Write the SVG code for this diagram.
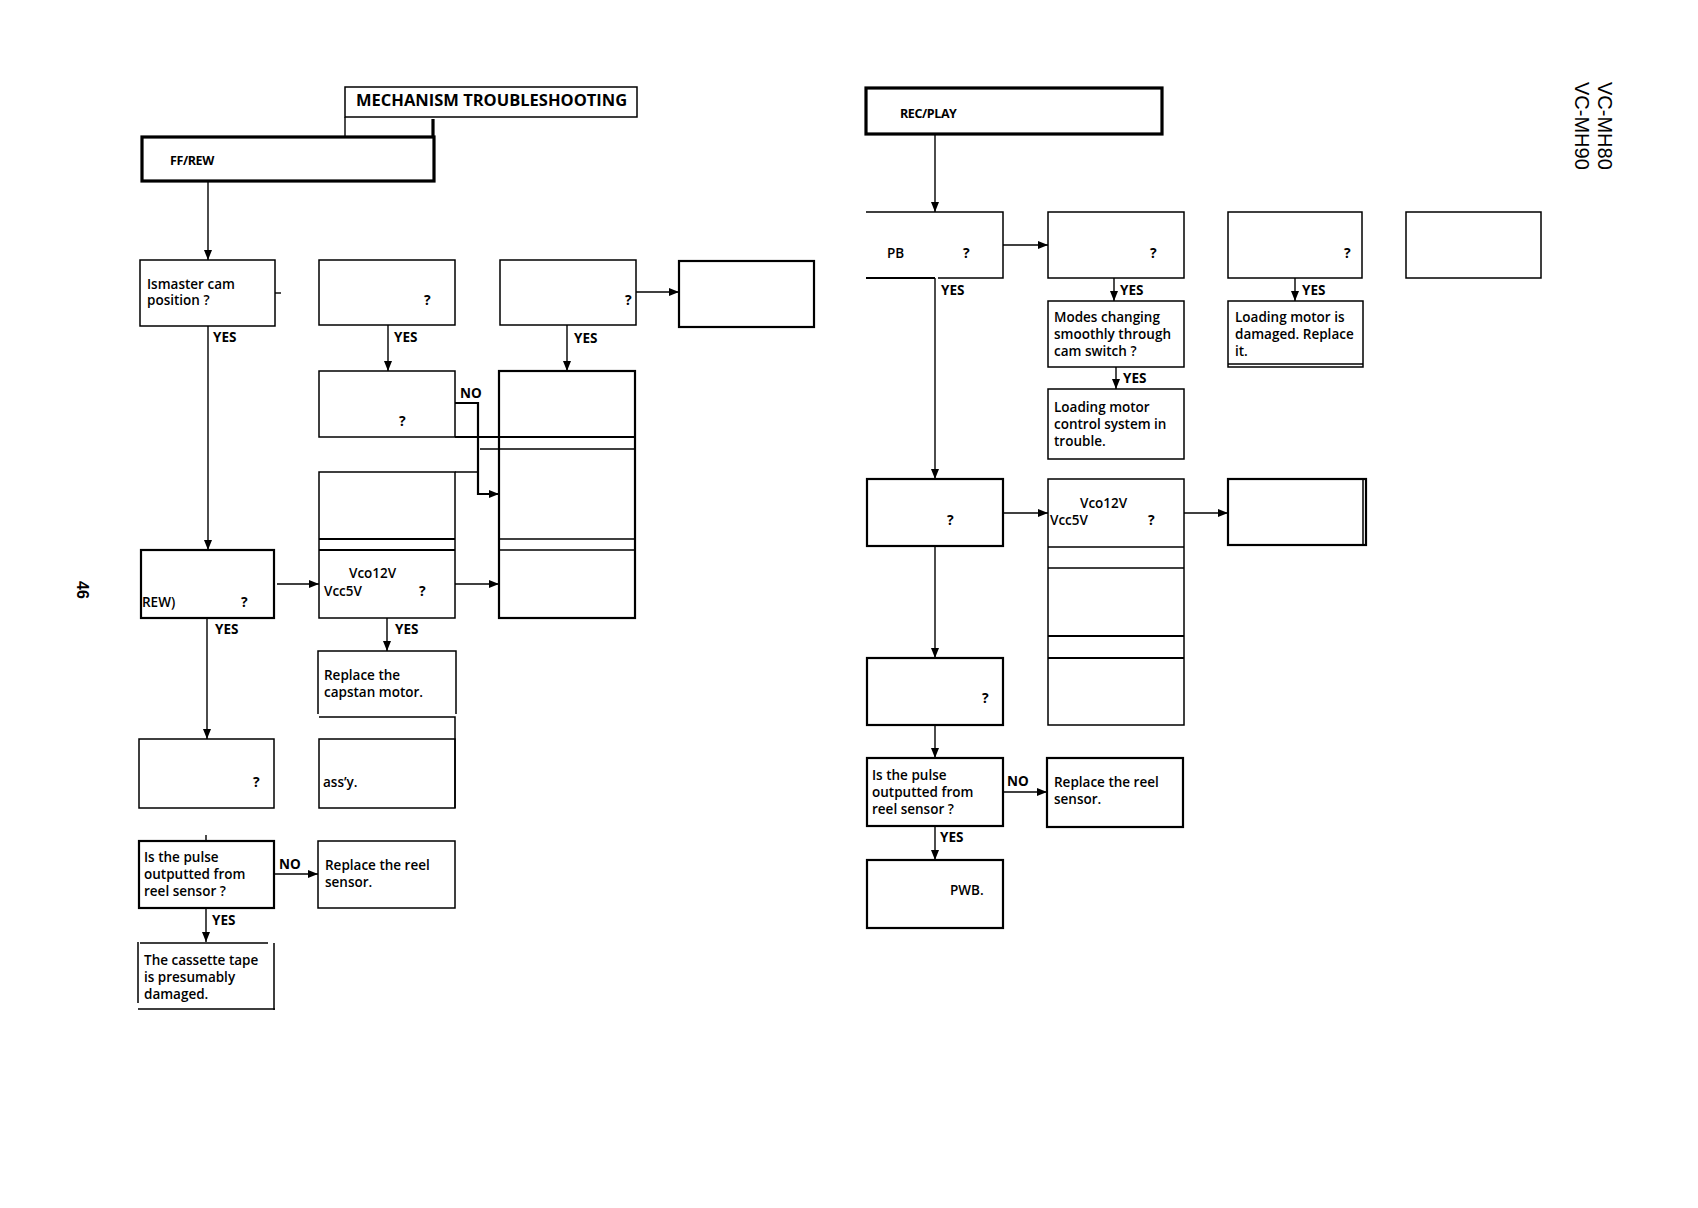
<svg xmlns="http://www.w3.org/2000/svg" width="1698" height="1208" viewBox="0 0 1698 1208">
<style>
.b{fill:none;stroke:#000;stroke-width:1.5}
.bt{fill:none;stroke:#000;stroke-width:2.2}
.h{fill:none;stroke:#000;stroke-width:3.2}
.c{fill:none;stroke:#000;stroke-width:1.4}
.t{font-family:"Open Sans","Liberation Sans",sans-serif;font-size:13.5px;font-weight:600;fill:#000}
.q{font-family:"Open Sans","Liberation Sans",sans-serif;font-size:14px;font-weight:700;fill:#000}
.l{font-family:"Open Sans","Liberation Sans",sans-serif;font-size:13.5px;font-weight:700;fill:#000}
.hd{font-family:"Open Sans","Liberation Sans",sans-serif;font-size:12.5px;font-weight:700;fill:#000;letter-spacing:-0.4px}
.ti{font-family:"Open Sans","Liberation Sans",sans-serif;font-size:16.5px;font-weight:700;fill:#000}
.side{font-family:"Liberation Sans",Arial,sans-serif;font-size:20px;fill:#000}
</style>
<defs>
<marker id="a" viewBox="0 0 10 8" refX="10" refY="4" markerWidth="10" markerHeight="8" markerUnits="userSpaceOnUse" orient="auto">
<path d="M0,0 L10,4 L0,8 Z" fill="#000"/>
</marker>
</defs>
<rect width="1698" height="1208" fill="#fff"/>

<g id="nodes-left">
<g id="n_mech"><rect class="b" x="345" y="87" width="292" height="30"/><text class="ti" x="356" y="106">MECHANISM TROUBLESHOOTING</text></g>
<g id="n_ffrew"><rect class="h" x="142" y="137" width="292" height="44"/><text class="hd" x="170" y="165">FF/REW</text></g>
<g id="n_cam"><rect class="b" x="140" y="260" width="135" height="66"/><text class="t" x="147" y="289">Ismaster cam</text><text class="t" x="147" y="305">position ?</text></g>
<g id="n_l2"><rect class="b" x="319" y="260" width="136" height="65"/><text class="q" x="424" y="305">?</text></g>
<g id="n_l3"><rect class="b" x="500" y="260" width="136" height="65"/><text class="q" x="625" y="305">?</text></g>
<g id="n_l4"><rect class="bt" x="679" y="261" width="135" height="66"/></g>
<g id="n_l5"><rect class="b" x="319" y="371" width="136" height="66"/><text class="q" x="399" y="426">?</text></g>
<g id="n_l6"><rect class="bt" x="499" y="371" width="136" height="247"/><line class="bt" x1="455" y1="437" x2="635" y2="437"/><line class="b" x1="480" y1="449" x2="635" y2="449"/><line class="b" x1="499" y1="539" x2="635" y2="539"/><line class="b" x1="499" y1="550" x2="635" y2="550"/></g>
<g id="n_l7"><rect class="b" x="319" y="472" width="136" height="146"/><line class="b" x1="455" y1="472" x2="478" y2="472"/><line class="bt" x1="319" y1="539" x2="455" y2="539"/><line class="bt" x1="319" y1="550" x2="455" y2="550"/><text class="t" x="349" y="578">Vco12V</text><text class="t" x="324" y="596">Vcc5V</text><text class="q" x="419" y="596">?</text></g>
<g id="n_rew"><rect class="bt" x="141" y="550" width="133" height="68"/><text class="t" x="142" y="607">REW)</text><text class="q" x="241" y="607">?</text></g>
<g id="n_capstan"><path class="b" d="M318,714 V651 H456 V714"/><text class="t" x="324" y="680">Replace the</text><text class="t" x="324" y="697">capstan motor.</text></g>
<g id="n_assy"><path class="b" d="M319,717 H455 V808"/><rect class="b" x="319" y="739" width="136" height="69"/><text class="t" x="323" y="787">ass’y.</text></g>
<g id="n_l10"><rect class="b" x="139" y="739" width="135" height="69"/><text class="q" x="253" y="787">?</text></g>
<g id="n_pulse1"><rect class="bt" x="139" y="841" width="135" height="67"/><text class="t" x="144" y="862">Is the pulse</text><text class="t" x="144" y="879">outputted from</text><text class="t" x="144" y="896">reel sensor ?</text></g>
<g id="n_reel1"><rect class="b" x="318" y="841" width="137" height="67"/><text class="t" x="325" y="870">Replace the reel</text><text class="t" x="325" y="887">sensor.</text></g>
<g id="n_cassette"><path class="b" d="M138,942 V1003 M140,943 H268 M274,943 V1010 M138,1009 H275"/><text class="t" x="144" y="965">The cassette tape</text><text class="t" x="144" y="982">is presumably</text><text class="t" x="144" y="999">damaged.</text></g>
</g>

<g id="nodes-right">
<g id="n_recplay"><rect class="h" x="866" y="88" width="296" height="46"/><text class="hd" x="900" y="118">REC/PLAY</text></g>
<g id="n_pb"><path class="b" d="M866,212 H1003 V278 H938"/><line class="bt" x1="866" y1="278" x2="935" y2="278"/><text class="t" x="887" y="258">PB</text><text class="q" x="963" y="258">?</text></g>
<g id="n_r2"><rect class="b" x="1048" y="212" width="136" height="66"/><text class="q" x="1150" y="258">?</text></g>
<g id="n_r3"><rect class="b" x="1228" y="212" width="134" height="66"/><text class="q" x="1344" y="258">?</text></g>
<g id="n_r4"><rect class="b" x="1406" y="212" width="135" height="66"/></g>
<g id="n_modes"><rect class="b" x="1048" y="301" width="136" height="66"/><text class="t" x="1054" y="322">Modes changing</text><text class="t" x="1054" y="339">smoothly through</text><text class="t" x="1054" y="356">cam switch ?</text></g>
<g id="n_lmctrl"><rect class="b" x="1048" y="389" width="136" height="70"/><text class="t" x="1054" y="412">Loading motor</text><text class="t" x="1054" y="429">control system in</text><text class="t" x="1054" y="446">trouble.</text></g>
<g id="n_lmdmg"><rect class="b" x="1228" y="301" width="135" height="66"/><line class="b" x1="1228" y1="364" x2="1363" y2="364"/><text class="t" x="1235" y="322">Loading motor is</text><text class="t" x="1235" y="339">damaged. Replace</text><text class="t" x="1235" y="356">it.</text></g>
<g id="n_r8"><rect class="bt" x="867" y="479" width="136" height="67"/><text class="q" x="947" y="525">?</text></g>
<g id="n_r9"><rect class="b" x="1048" y="479" width="136" height="246"/><line class="b" x1="1048" y1="547" x2="1184" y2="547"/><line class="b" x1="1048" y1="568" x2="1184" y2="568"/><line class="bt" x1="1048" y1="636" x2="1184" y2="636"/><line class="bt" x1="1048" y1="658" x2="1184" y2="658"/><text class="t" x="1080" y="508">Vco12V</text><text class="t" x="1050" y="525">Vcc5V</text><text class="q" x="1148" y="525">?</text></g>
<g id="n_r10"><rect class="bt" x="1228" y="479" width="138" height="66"/><line class="b" x1="1363" y1="479" x2="1363" y2="545"/></g>
<g id="n_r11"><rect class="bt" x="867" y="658" width="136" height="67"/><text class="q" x="982" y="703">?</text></g>
<g id="n_pulse2"><rect class="bt" x="867" y="758" width="136" height="68"/><text class="t" x="872" y="780">Is the pulse</text><text class="t" x="872" y="797">outputted from</text><text class="t" x="872" y="814">reel sensor ?</text></g>
<g id="n_reel2"><rect class="bt" x="1047" y="758" width="136" height="69"/><text class="t" x="1054" y="787">Replace the reel</text><text class="t" x="1054" y="804">sensor.</text></g>
<g id="n_pwb"><rect class="bt" x="867" y="860" width="136" height="68"/><text class="t" x="950" y="895">PWB.</text></g>
</g>

<g id="connectors">
<line class="c" x1="345" y1="117" x2="345" y2="137"/>
<line class="h" x1="433" y1="119" x2="433" y2="137"/>
<line class="c" x1="208" y1="182" x2="208" y2="260" marker-end="url(#a)"/>
<line class="c" x1="275" y1="293" x2="281" y2="293"/>
<line class="c" x1="208" y1="326" x2="208" y2="550" marker-end="url(#a)"/>
<line class="c" x1="388" y1="325" x2="388" y2="371" marker-end="url(#a)"/>
<line class="c" x1="567" y1="325" x2="567" y2="371" marker-end="url(#a)"/>
<line class="c" x1="636" y1="292" x2="679" y2="292" marker-end="url(#a)"/>
<path class="bt" d="M455,403 H478 V494 H499" marker-end="url(#a)"/>
<line class="c" x1="277" y1="584" x2="319" y2="584" marker-end="url(#a)"/>
<line class="c" x1="455" y1="584" x2="499" y2="584" marker-end="url(#a)"/>
<line class="c" x1="207" y1="618" x2="207" y2="739" marker-end="url(#a)"/>
<line class="c" x1="387" y1="618" x2="387" y2="651" marker-end="url(#a)"/>
<line class="c" x1="206" y1="835" x2="206" y2="841"/>
<line class="c" x1="274" y1="874" x2="318" y2="874" marker-end="url(#a)"/>
<line class="c" x1="206" y1="908" x2="206" y2="942" marker-end="url(#a)"/>

<line class="c" x1="935" y1="134" x2="935" y2="212" marker-end="url(#a)"/>
<line class="c" x1="1003" y1="245" x2="1048" y2="245" marker-end="url(#a)"/>
<line class="c" x1="935" y1="278" x2="935" y2="479" marker-end="url(#a)"/>
<line class="c" x1="1114" y1="278" x2="1114" y2="301" marker-end="url(#a)"/>
<line class="c" x1="1116" y1="367" x2="1116" y2="389" marker-end="url(#a)"/>
<line class="c" x1="1295" y1="278" x2="1295" y2="301" marker-end="url(#a)"/>
<line class="c" x1="1003" y1="513" x2="1048" y2="513" marker-end="url(#a)"/>
<line class="c" x1="1184" y1="513" x2="1228" y2="513" marker-end="url(#a)"/>
<line class="c" x1="935" y1="546" x2="935" y2="658" marker-end="url(#a)"/>
<line class="c" x1="935" y1="725" x2="935" y2="758" marker-end="url(#a)"/>
<line class="c" x1="1003" y1="792" x2="1047" y2="792" marker-end="url(#a)"/>
<line class="c" x1="935" y1="826" x2="935" y2="860" marker-end="url(#a)"/>

<text class="l" x="213" y="342">YES</text>
<text class="l" x="394" y="342">YES</text>
<text class="l" x="574" y="343">YES</text>
<text class="l" x="460" y="398">NO</text>
<text class="l" x="215" y="634">YES</text>
<text class="l" x="395" y="634">YES</text>
<text class="l" x="279" y="869">NO</text>
<text class="l" x="212" y="925">YES</text>
<text class="l" x="941" y="295">YES</text>
<text class="l" x="1120" y="295">YES</text>
<text class="l" x="1302" y="295">YES</text>
<text class="l" x="1123" y="383">YES</text>
<text class="l" x="1007" y="786">NO</text>
<text class="l" x="940" y="842">YES</text>
</g>

<g id="page-labels">
<text class="side" transform="translate(1598,82) rotate(90)">VC-MH80</text>
<text class="side" transform="translate(1575,82) rotate(90)">VC-MH90</text>
<text transform="translate(77,581) rotate(90)" style="font-family:'Liberation Sans',Arial,sans-serif;font-size:16px;font-weight:700">46</text>
</g>
</svg>
